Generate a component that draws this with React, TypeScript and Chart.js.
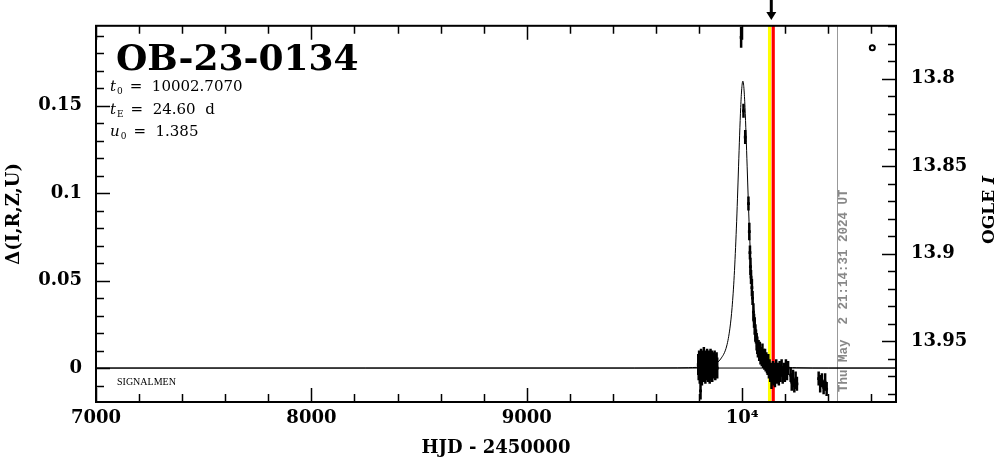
import React, { useEffect, useRef } from "react";
import { Chart, registerables } from "chart.js";
Chart.register(...registerables);

// ---------- axis ranges ----------
const X_MIN = 7000;
const X_MAX = 10714;
const Y_MIN = -0.0194;
const Y_MAX = 0.1956;
const BASE_I = 13.9653;

// ---------- tick labels ----------
const xTickValues = [7000, 8000, 9000, 10000];
const xTickLabels = ["7000", "8000", "9000", "10⁴"];
const yTickValues = [0, 0.05, 0.1, 0.15];
const yTickLabels = ["0", "0.05", "0.1", "0.15"];
const iTickValues = [13.8, 13.85, 13.9, 13.95];
const iTickLabels = ["13.8", "13.85", "13.9", "13.95"];

// ---------- model curve ----------
const modelT = [7000, 9500, 9700, 9750, 9830, 9870, 9900, 9928, 9943, 9953, 9963, 9973, 9978, 9983, 9988, 9993, 9998, 10003, 10008, 10013, 10018, 10023, 10028, 10033, 10043, 10053, 10063, 10078, 10103, 10133, 10173, 10253, 10400, 10714];
const modelD = [0, 0, 0.0001, 0.0002, 0.0009, 0.0022, 0.0052, 0.0126, 0.0228, 0.0346, 0.0529, 0.08, 0.0967, 0.115, 0.1331, 0.1489, 0.1599, 0.164, 0.1599, 0.1489, 0.1331, 0.115, 0.0967, 0.08, 0.0529, 0.0346, 0.0228, 0.0126, 0.0052, 0.0022, 0.0009, 0.0002, 0, 0];

// ---------- OGLE observations ----------
const obsT = [
  9796, 9798, 9800, 9802, 9803, 9805, 9806, 9806.5, 9808, 9809, 9811, 9813, 9814, 9816, 9818, 9820, 9822, 9823, 9825, 9827,
  9829, 9831, 9833, 9835, 9837, 9839, 9841, 9843, 9845, 9847, 9849, 9851, 9853, 9855, 9857, 9859, 9861, 9863, 9866, 9869,
  9872, 9875, 9878, 9881, 9884,
  9995, 10006, 10014, 10029, 10033, 10036, 10038, 10041, 10045, 10048, 10052, 10055, 10058, 10061, 10064, 10067, 10070, 10073,
  10076, 10079, 10082, 10085, 10088, 10091, 10094, 10097, 10100, 10103, 10106, 10109, 10112, 10115, 10118, 10121, 10124, 10127,
  10130, 10133, 10136, 10140, 10143, 10146, 10149, 10152, 10155, 10158, 10162, 10166, 10170, 10174, 10178, 10183, 10188, 10193,
  10198, 10203, 10208, 10213, 10225, 10230, 10236, 10242, 10248, 10254, 10355, 10362, 10370, 10378, 10385, 10392
];
const obsD = [
  0.002, -0.001, 0.004, 0.0, -0.003, 0.003, 0.001, -0.013, -0.002, 0.005, 0.0, -0.004, 0.002, 0.004, -0.001, 0.001, 0.006, -0.002, 0.003, 0.0,
  -0.003, 0.004, 0.001, -0.001, 0.005, 0.002, -0.002, 0.003, 0.0, 0.004, -0.003, 0.001, 0.005, -0.001, 0.002, 0.004, -0.002, 0.001, 0.003, 0.0,
  0.004, -0.001, 0.002, 0.003, 0.0,
  0.189, 0.147, 0.132, 0.094, 0.078, 0.066, 0.058, 0.052, 0.046, 0.04, 0.032, 0.027, 0.024, 0.02, 0.018, 0.015, 0.013, 0.011,
  0.012, 0.009, 0.01, 0.007, 0.008, 0.006, 0.009, 0.005, 0.007, 0.004, 0.006, 0.003, 0.005, 0.002, 0.001, 0.003, -0.001, 0.0,
  -0.003, -0.002, -0.006, -0.004, -0.001, -0.005, -0.002, -0.006, -0.003, 0.0, -0.004, -0.002, -0.005, -0.001, -0.003, 0.0, -0.004, -0.002,
  -0.003, 0.001, -0.002, 0.0, -0.004, -0.008, -0.006, -0.01, -0.007, -0.009, -0.006, -0.009, -0.007, -0.011, -0.008, -0.012
];
const obsE = [
  0.006, 0.006, 0.006, 0.006, 0.006, 0.006, 0.006, 0.005, 0.006, 0.006, 0.006, 0.006, 0.006, 0.006, 0.006, 0.006, 0.006, 0.006, 0.006, 0.006,
  0.006, 0.006, 0.006, 0.006, 0.006, 0.006, 0.006, 0.006, 0.006, 0.006, 0.006, 0.006, 0.006, 0.006, 0.006, 0.006, 0.006, 0.006, 0.006, 0.006,
  0.006, 0.006, 0.006, 0.006, 0.006,
  0.006, 0.004, 0.004, 0.004, 0.005, 0.004, 0.005, 0.004, 0.005, 0.004, 0.005, 0.004, 0.005, 0.005, 0.004, 0.005, 0.005, 0.005,
  0.004, 0.005, 0.005, 0.005, 0.004, 0.005, 0.005, 0.005, 0.004, 0.005, 0.005, 0.005, 0.004, 0.005, 0.005, 0.005, 0.005, 0.005,
  0.005, 0.005, 0.006, 0.005, 0.005, 0.005, 0.005, 0.005, 0.005, 0.005, 0.005, 0.005, 0.005, 0.005, 0.005, 0.005, 0.005, 0.005,
  0.005, 0.004, 0.005, 0.004, 0.004, 0.005, 0.005, 0.004, 0.005, 0.004, 0.004, 0.005, 0.004, 0.004, 0.005, 0.004
];
const outlierT = [10604];
const outlierD = [0.183];

// ---------- event markers ----------
const yellowT = 10127;
const redT = 10144;
const nowT = 10438;
const arrowT = 10135;

const titleText = "OB-23-0134";
const paramNames = ["t", "t", "u"];
const paramSubs = ["0", "E", "0"];
const paramValues = ["=  10002.7070", "=  24.60  d", "=  1.385"];
const dateText = "Thu May  2 21:14:31 2024 UT";
const cornerText = "SIGNALMEN";

const SERIF = "'DejaVu Serif', serif";

const decorPlugin = {
  id: "decor",
  beforeDatasetsDraw(chart: any) {
    const { ctx, chartArea, scales } = chart;
    const { left, right, top, bottom } = chartArea;
    const x = scales.x;
    const y = scales.y;
    ctx.save();
    ctx.beginPath();
    ctx.rect(left, top, right - left, bottom - top);
    ctx.clip();
    // gray "now" line
    ctx.strokeStyle = "#999";
    ctx.lineWidth = 1;
    ctx.beginPath();
    const gx = Math.round(x.getPixelForValue(nowT)) + 0.5;
    ctx.moveTo(gx, top);
    ctx.lineTo(gx, bottom);
    ctx.stroke();
    // yellow and red bands
    ctx.fillStyle = "#ffff00";
    const yx = x.getPixelForValue(yellowT);
    ctx.fillRect(yx - 1.6, top, 3.2, bottom - top);
    ctx.fillStyle = "#ff0000";
    const rx = x.getPixelForValue(redT);
    ctx.fillRect(rx - 1.6, top, 3.2, bottom - top);
    // error bars
    ctx.strokeStyle = "#000";
    ctx.lineWidth = 2.5;
    for (let i = 0; i < obsT.length; i++) {
      const px = x.getPixelForValue(obsT[i]);
      ctx.beginPath();
      ctx.moveTo(px, y.getPixelForValue(obsD[i] + obsE[i]));
      ctx.lineTo(px, y.getPixelForValue(obsD[i] - obsE[i]));
      ctx.stroke();
    }
    ctx.restore();
  },
  afterDraw(chart: any) {
    const { ctx, chartArea, scales } = chart;
    const { left, right, top, bottom } = chartArea;
    const x = scales.x;
    const y = scales.y;
    const y2 = scales.y2;
    ctx.save();
    ctx.strokeStyle = "#000";
    ctx.lineWidth = 2;
    ctx.strokeRect(left, top, right - left, bottom - top);
    ctx.lineWidth = 1.5;
    const MAJ = 14;
    const MIN = 8;
    // x ticks (top & bottom)
    for (let v = 7000; v <= X_MAX; v += 200) {
      const px = Math.round(x.getPixelForValue(v)) + 0.5;
      const len = v % 1000 === 0 ? MAJ : MIN;
      ctx.beginPath();
      ctx.moveTo(px, bottom);
      ctx.lineTo(px, bottom - len);
      ctx.moveTo(px, top);
      ctx.lineTo(px, top + len);
      ctx.stroke();
    }
    // left ticks
    for (let k = -1; k <= 19; k++) {
      const v = k / 100;
      if (v < Y_MIN || v > Y_MAX) continue;
      const py = Math.round(y.getPixelForValue(v)) + 0.5;
      const len = k % 5 === 0 ? MAJ : MIN;
      ctx.beginPath();
      ctx.moveTo(left, py);
      ctx.lineTo(left + len, py);
      ctx.stroke();
    }
    // right ticks
    for (let k = 1377; k <= 1398; k++) {
      const v = k / 100;
      if (v < BASE_I - Y_MAX || v > BASE_I - Y_MIN) continue;
      const py = Math.round(y2.getPixelForValue(v)) + 0.5;
      const len = k % 5 === 0 ? MAJ : MIN;
      ctx.beginPath();
      ctx.moveTo(right, py);
      ctx.lineTo(right - len, py);
      ctx.stroke();
    }
    // arrow
    const ax = x.getPixelForValue(arrowT);
    ctx.lineWidth = 3;
    ctx.beginPath();
    ctx.moveTo(ax, 0);
    ctx.lineTo(ax, 14);
    ctx.stroke();
    ctx.fillStyle = "#000";
    ctx.beginPath();
    ctx.moveTo(ax - 5, 12);
    ctx.lineTo(ax + 5, 12);
    ctx.lineTo(ax, 20);
    ctx.closePath();
    ctx.fill();

    // title
    ctx.fillStyle = "#000";
    ctx.textAlign = "left";
    ctx.textBaseline = "alphabetic";
    ctx.font = `bold 36px ${SERIF}`;
    ctx.fillText(titleText, 116, 70);
    // params
    const baselines = [91, 114, 136];
    for (let i = 0; i < 3; i++) {
      let cx = 110;
      ctx.font = `italic 15px ${SERIF}`;
      ctx.fillText(paramNames[i], cx, baselines[i]);
      cx += ctx.measureText(paramNames[i]).width;
      ctx.font = `9px ${SERIF}`;
      ctx.fillText(paramSubs[i], cx + 1, baselines[i] + 3);
      cx += ctx.measureText(paramSubs[i]).width + 8;
      ctx.font = `15px ${SERIF}`;
      ctx.fillText(paramValues[i], cx, baselines[i]);
    }
    // corner label
    ctx.font = `10px 'Liberation Serif', serif`;
    ctx.fillText(cornerText, 117, 385);
    // right axis title
    ctx.save();
    ctx.translate(990, 210);
    ctx.rotate(-Math.PI / 2);
    ctx.textBaseline = "middle";
    ctx.font = `bold 17px ${SERIF}`;
    const w1 = ctx.measureText("OGLE ").width;
    ctx.font = `bold italic 17px ${SERIF}`;
    const w2 = ctx.measureText("I").width;
    ctx.textAlign = "left";
    ctx.font = `bold 17px ${SERIF}`;
    ctx.fillText("OGLE ", -(w1 + w2) / 2, 0);
    ctx.font = `bold italic 17px ${SERIF}`;
    ctx.fillText("I", -(w1 + w2) / 2 + w1, 0);
    ctx.restore();
    // date text
    ctx.save();
    ctx.translate(x.getPixelForValue(nowT) + 7, 392);
    ctx.rotate(-Math.PI / 2);
    ctx.textAlign = "left";
    ctx.textBaseline = "middle";
    ctx.fillStyle = "#888";
    ctx.font = `bold 12.5px 'Liberation Mono', monospace`;
    ctx.fillText(dateText, 0, 0);
    ctx.restore();
    ctx.restore();
  },
};

export default function App() {
  const ref = useRef<HTMLCanvasElement | null>(null);
  useEffect(() => {
    if (!ref.current) return;
    const tickFont = { family: SERIF, size: 18, weight: "bold" as const };
    const chart = new Chart(ref.current, {
      type: "scatter",
      data: {
        datasets: [
          {
            label: "baseline",
            data: [
              { x: X_MIN, y: 0 },
              { x: X_MAX, y: 0 },
            ],
            showLine: true,
            borderColor: "#000",
            borderWidth: 1,
            pointRadius: 0,
          },
          {
            label: "model",
            data: modelT.map((t, i) => ({ x: t, y: modelD[i] })),
            showLine: true,
            borderColor: "#000",
            borderWidth: 1,
            pointRadius: 0,
            cubicInterpolationMode: "monotone",
          },
          {
            label: "OGLE",
            data: obsT.map((t, i) => ({ x: t, y: obsD[i] })),
            showLine: false,
            pointStyle: "rect",
            pointRadius: 2,
            backgroundColor: "#000",
            borderColor: "#000",
            borderWidth: 0,
          },
          {
            label: "outlier",
            data: outlierT.map((t, i) => ({ x: t, y: outlierD[i] })),
            showLine: false,
            pointStyle: "circle",
            pointRadius: 2.5,
            backgroundColor: "#fff",
            borderColor: "#000",
            borderWidth: 2,
          },
        ],
      },
      options: {
        animation: false,
        responsive: false,
        events: [],
        layout: { padding: { top: 25, left: 0, right: 0, bottom: 0 } },
        plugins: { legend: { display: false }, tooltip: { enabled: false } },
        scales: {
          x: {
            type: "linear",
            position: "bottom",
            min: X_MIN,
            max: X_MAX,
            grid: { display: false, drawTicks: false },
            border: { display: false },
            afterBuildTicks: (s: any) => {
              s.ticks = xTickValues.map((v) => ({ value: v }));
            },
            afterFit: (s: any) => {
              s.height = 57;
            },
            ticks: {
              autoSkip: false,
              maxRotation: 0,
              padding: 6,
              color: "#000",
              font: tickFont,
              callback: (v: any) => xTickLabels[xTickValues.indexOf(Number(v))] ?? "",
            },
            title: {
              display: true,
              text: "HJD - 2450000",
              color: "#000",
              font: { family: SERIF, size: 18, weight: "bold" },
              padding: { top: 0, bottom: 0 },
            },
          },
          y: {
            type: "linear",
            position: "left",
            min: Y_MIN,
            max: Y_MAX,
            grid: { display: false, drawTicks: false },
            border: { display: false },
            afterBuildTicks: (s: any) => {
              s.ticks = yTickValues.map((v) => ({ value: v }));
            },
            afterFit: (s: any) => {
              s.width = 96;
            },
            ticks: {
              autoSkip: false,
              padding: 14,
              color: "#000",
              font: tickFont,
              callback: (v: any) => {
                const idx = yTickValues.findIndex((t) => Math.abs(t - Number(v)) < 1e-9);
                return idx >= 0 ? yTickLabels[idx] : "";
              },
            },
            title: {
              display: true,
              text: "Δ(I,R,Z,U)",
              color: "#000",
              font: { family: SERIF, size: 18, weight: "bold" },
              padding: { top: 4, bottom: 0 },
            },
          },
          y2: {
            type: "linear",
            position: "right",
            reverse: true,
            min: BASE_I - Y_MAX,
            max: BASE_I - Y_MIN,
            grid: { display: false, drawTicks: false },
            border: { display: false },
            afterBuildTicks: (s: any) => {
              s.ticks = iTickValues.map((v) => ({ value: v }));
            },
            afterFit: (s: any) => {
              s.width = 103;
            },
            ticks: {
              autoSkip: false,
              padding: 15,
              color: "#000",
              font: tickFont,
              callback: (v: any) => {
                const idx = iTickValues.findIndex((t) => Math.abs(t - Number(v)) < 1e-9);
                return idx >= 0 ? iTickLabels[idx] : "";
              },
            },
          },
        },
      } as any,
      plugins: [decorPlugin],
    });
    return () => chart.destroy();
  }, []);
  return (
    <div style={{ position: "absolute", left: 0, top: 0, width: 999, height: 459, background: "#fff" }}>
      <canvas ref={ref} width={999} height={459} style={{ display: "block", width: 999, height: 459 }} />
    </div>
  );
}
